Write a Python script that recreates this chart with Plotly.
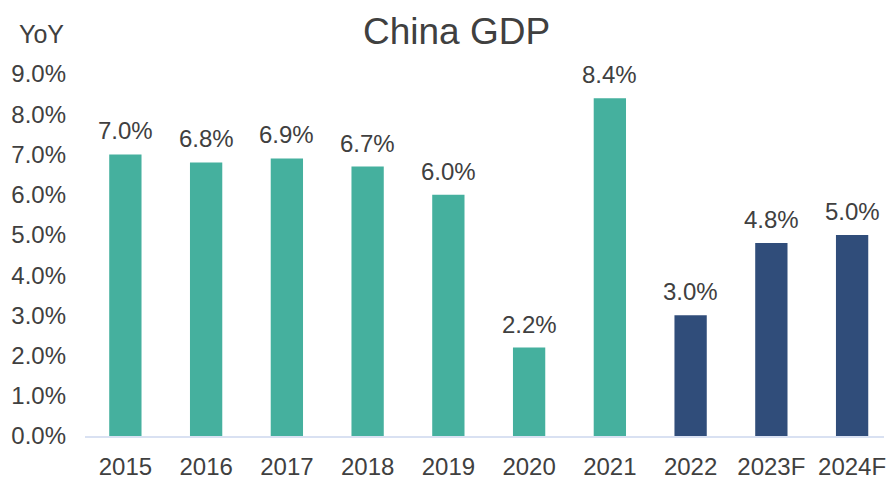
import plotly.graph_objects as go

years = ["2015", "2016", "2017", "2018", "2019", "2020", "2021", "2022", "2023F", "2024F"]
growth = [7.0, 6.8, 6.9, 6.7, 6.0, 2.2, 8.4, 3.0, 4.8, 5.0]
colors = ["#45B09E"] * 7 + ["#304D7A"] * 3
y_ticks = [0, 1, 2, 3, 4, 5, 6, 7, 8, 9]

FONT = "Liberation Sans, Arial, sans-serif"
TXT = "#404040"

fig = go.Figure()
fig.add_trace(go.Bar(x=list(range(len(years))), y=growth, marker=dict(color=colors, line=dict(width=0)),
                     width=0.4, hoverinfo="skip"))

for i, v in enumerate(growth):
    fig.add_annotation(x=i, y=v, text=f"{v:.1f}%", showarrow=False, yanchor="bottom",
                       yshift=8, font=dict(family=FONT, size=24, color=TXT))

fig.add_annotation(text="China GDP", xref="paper", yref="paper", x=0.465, y=1.0, yshift=65,
                   showarrow=False, font=dict(family=FONT, size=37, color=TXT))
fig.add_annotation(text="YoY", xref="paper", yref="paper", x=-0.085, y=1.0, yshift=56, xanchor="left",
                   showarrow=False, font=dict(family=FONT, size=25, color=TXT))

fig.update_layout(
    width=886, height=480,
    margin=dict(l=85, r=0, t=74, b=41),
    paper_bgcolor="white", plot_bgcolor="white",
    showlegend=False,
    xaxis=dict(range=[-0.5, 9.395], tickmode="array", tickvals=list(range(len(years))), ticktext=years,
               showgrid=False, zeroline=False, showline=True, linecolor="#D9E1F2", linewidth=2,
               ticks="", ticklabelstandoff=8, ticklabeloverflow="allow",
               tickfont=dict(family=FONT, size=24, color=TXT)),
    yaxis=dict(range=[0, 9], tickmode="array", tickvals=y_ticks, ticktext=[f"{t:.1f}%" for t in y_ticks],
               showgrid=False, zeroline=False, showline=False, ticks="", ticklabelstandoff=18,
               tickfont=dict(family=FONT, size=24, color=TXT)),
)

fig.write_html("out.html", config={"displayModeBar": False},
               post_script="document.body.style.margin='0';document.body.style.overflow='hidden';")
